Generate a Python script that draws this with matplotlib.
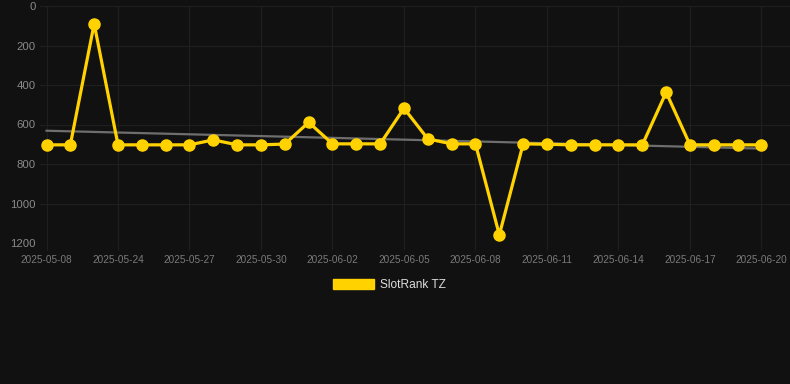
import matplotlib
matplotlib.use("Agg")
import matplotlib.pyplot as plt
from matplotlib.patches import Patch
import numpy as np

plt.rcParams['font.family'] = ['Liberation Sans', 'DejaVu Sans']

dates = ["2025-05-08", "2025-05-22", "2025-05-23", "2025-05-24", "2025-05-25",
         "2025-05-26", "2025-05-27", "2025-05-28", "2025-05-29", "2025-05-30",
         "2025-05-31", "2025-06-01", "2025-06-02", "2025-06-03", "2025-06-04",
         "2025-06-05", "2025-06-06", "2025-06-07", "2025-06-08", "2025-06-09",
         "2025-06-10", "2025-06-11", "2025-06-12", "2025-06-13", "2025-06-14",
         "2025-06-15", "2025-06-16", "2025-06-17", "2025-06-18", "2025-06-19",
         "2025-06-20"]
ranks = [703, 703, 90, 703, 703, 703, 703, 678, 703, 703,
         699, 589, 698, 698, 698, 518, 673, 698, 698, 1159,
         698, 700, 703, 703, 703, 703, 437, 703, 703, 703,
         703]
series_name = "SlotRank TZ"
y_ticks = [0, 200, 400, 600, 800, 1000, 1200]

BG = "#111111"
GRID = "#1f1f1f"
GOLD = "#FFD200"

fig = plt.figure(figsize=(7.9, 3.84), dpi=100, facecolor=BG)
ax = fig.add_axes([40/790, 141/384, 750/790, 237/384])
ax.set_facecolor(BG)

x = np.arange(len(ranks))
coef = np.polyfit(x, ranks, 1)
ax.plot(x, np.polyval(coef, x), color="#6e6e6e", lw=1.6, zorder=2)
ax.plot(x, ranks, color=GOLD, lw=2.3, marker='o', markersize=8,
        markerfacecolor=GOLD, markeredgecolor=GOLD,
        solid_joinstyle='miter', zorder=3)

step = 23.83
ax.set_xlim(-6.5/step, 30 + 28.5/step)
ax.set_ylim(1200, 0)
ax.set_yticks(y_ticks)
ax.set_yticklabels([str(v) for v in y_ticks])
ax.set_xticks(x[::3])
ax.set_xticklabels(dates[::3])

ax.grid(True, color=GRID, lw=0.9)
ax.set_axisbelow(True)
for s in ax.spines.values():
    s.set_visible(False)
ax.tick_params(axis='y', length=0, pad=3, labelsize=8.2, labelcolor="#8a8a8a")
ax.tick_params(axis='x', length=5, width=0.9, color=GRID, pad=3.5,
               labelsize=7.2, labelcolor="#7a7a7a")

handle = Patch(facecolor=GOLD, edgecolor=GOLD, label=series_name)
leg = fig.legend(handles=[handle], loc='center', bbox_to_anchor=(0.493, 0.258),
                 frameon=False, fontsize=8.6, handlelength=3.4, handleheight=0.9,
                 handletextpad=0.5, labelcolor="#dddddd")

fig.savefig("out.png", dpi=100, facecolor=BG)
